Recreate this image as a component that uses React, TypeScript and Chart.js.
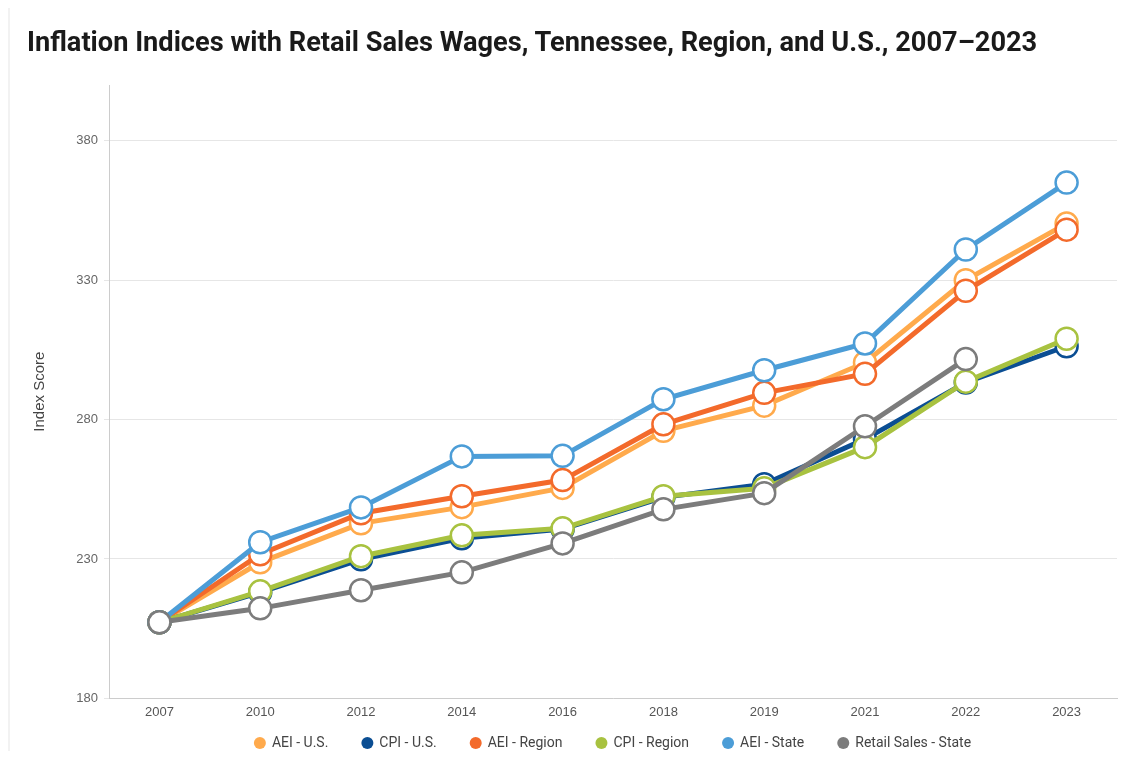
import React, { useEffect, useRef } from 'react';
import { Chart, registerables } from 'chart.js';

Chart.register(...registerables);

const years = ['2007', '2010', '2012', '2014', '2016', '2018', '2019', '2021', '2022', '2023'];
const aeiUS = [207.3, 228.8, 242.8, 248.6, 255.5, 276.0, 285.0, 300.4, 330.0, 350.3];
const cpiUS = [207.3, 218.0, 229.9, 237.4, 240.7, 252.1, 256.8, 273.0, 293.3, 306.3];
const aeiRegion = [207.3, 231.7, 246.4, 252.5, 258.3, 278.3, 289.6, 296.4, 326.2, 348.1];
const cpiRegion = [207.3, 218.4, 231.0, 238.5, 241.0, 252.5, 255.4, 270.1, 293.6, 309.0];
const aeiState = [207.3, 236.0, 248.5, 266.8, 267.0, 287.3, 297.7, 307.3, 341.0, 365.0];
const retailState = [207.3, 212.3, 218.8, 225.2, 235.6, 247.8, 253.6, 277.6, 301.7, null];
const yTicks = [180, 230, 280, 330, 380];

const seriesNames = ['AEI - U.S.', 'CPI - U.S.', 'AEI - Region', 'CPI - Region', 'AEI - State', 'Retail Sales - State'];
const seriesData = [aeiUS, cpiUS, aeiRegion, cpiRegion, aeiState, retailState];
const seriesColors = ['#ffaa4c', '#0b4e93', '#f36a2b', '#a8c240', '#4c9dd7', '#7c7c7c'];

const LEGEND_SHIFT = 24;

const legendTweak = {
  id: 'legendTweak',
  afterInit(chart: any) {
    const lg = chart.legend;
    if (!lg) return;
    const orig = lg.fit.bind(lg);
    lg.fit = function () {
      orig();
      this.height = Math.max(0, this.height - LEGEND_SHIFT);
    };
  },
  afterLayout(chart: any) {
    const lg = chart.legend;
    if (!lg) return;
    lg.top -= LEGEND_SHIFT;
    lg.height += LEGEND_SHIFT;
  },
};

export default function App() {
  const ref = useRef<HTMLCanvasElement>(null);

  useEffect(() => {
    if (!ref.current) return;
    const n = seriesData.length;
    const chart = new Chart(ref.current, {
      type: 'line',
      data: {
        labels: years,
        datasets: seriesData.map((d, i) => ({
          label: seriesNames[i],
          data: d,
          borderColor: seriesColors[i],
          backgroundColor: '#ffffff',
          borderWidth: 5,
          pointRadius: 11,
          pointBorderWidth: 2.5,
          pointBackgroundColor: '#ffffff',
          pointBorderColor: seriesColors[i],
          tension: 0,
          order: n - i,
          spanGaps: false,
        })),
      },
      plugins: [legendTweak],
      options: {
        animation: false,
        responsive: true,
        maintainAspectRatio: false,
        layout: { autoPadding: false, padding: { left: 17, right: 8, top: 77, bottom: 0 } },
        scales: {
          x: {
            offset: true,
            grid: { display: false, drawTicks: false },
            border: { display: true, color: '#cccccc' },
            ticks: { color: '#555555', font: { family: 'Liberation Sans', size: 13 }, padding: 6 },
          },
          y: {
            min: 180,
            max: 400,
            afterFit: (scale: any) => { scale.width = 82; },
            afterBuildTicks: (scale: any) => { scale.ticks = yTicks.map((v) => ({ value: v })); },
            grid: { color: '#e6e6e6', tickLength: 5, drawTicks: true },
            border: { display: true, color: '#cccccc' },
            ticks: { color: '#666666', font: { family: 'Liberation Sans', size: 13 }, padding: 6 },
            title: {
              display: true,
              text: 'Index Score',
              color: '#444444',
              font: { family: 'Liberation Sans', size: 15 },
              padding: 4,
            },
          },
        },
        plugins: {
          title: { display: false },
          tooltip: { enabled: false },
          legend: {
            position: 'bottom',
            fullSize: false,
            labels: {
              usePointStyle: true,
              pointStyle: 'circle',
              boxWidth: 10,
              boxHeight: 8.5,
              padding: 34,
              color: '#444444',
              font: { family: 'Roboto', size: 14 },
              sort: (a: any, b: any) => a.datasetIndex - b.datasetIndex,
              generateLabels: (c: any) => {
                const base = Chart.defaults.plugins.legend.labels.generateLabels(c);
                return base.map((l: any) => ({
                  ...l,
                  fillStyle: seriesColors[l.datasetIndex],
                  strokeStyle: seriesColors[l.datasetIndex],
                  lineWidth: 0,
                }));
              },
            },
          },
        },
      },
    });
    return () => chart.destroy();
  }, []);

  return (
    <div
      style={{
        position: 'relative',
        width: '100%',
        height: 752,
        marginBottom: -9,
        borderLeft: '2px solid #f2f2f2',
        boxSizing: 'border-box',
      }}
    >
      <div
        style={{
          position: 'absolute',
          left: 17,
          top: 18,
          fontFamily: 'Roboto',
          fontWeight: 700,
          fontSize: 27.2,
          lineHeight: 'normal',
          color: '#1a1a1a',
          whiteSpace: 'nowrap',
        }}
      >
        Inflation Indices with Retail Sales Wages, Tennessee, Region, and U.S., 2007–2023
      </div>
      <canvas ref={ref} />
    </div>
  );
}
